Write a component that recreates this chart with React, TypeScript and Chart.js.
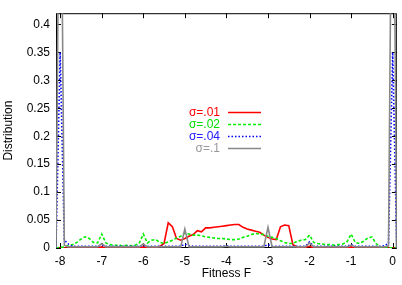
import React, { useEffect, useRef } from "react";
import { Chart, registerables } from "chart.js";

Chart.register(...registerables);

// Fitness F (bin centres)
const F = [
  -8.1, -8.0, -7.9, -7.8, -7.7, -7.6, -7.5, -7.4, -7.3, -7.2,
  -7.1, -7.0, -6.9, -6.8, -6.7, -6.6, -6.5, -6.4, -6.3, -6.2,
  -6.1, -6.0, -5.9, -5.8, -5.7, -5.6, -5.5, -5.4, -5.3, -5.2,
  -5.1, -5.0, -4.9, -4.8, -4.7, -4.6, -4.5, -4.4, -4.3, -4.2,
  -4.1, -4.0, -3.9, -3.8, -3.7, -3.6, -3.5, -3.4, -3.3, -3.2,
  -3.1, -3.0, -2.9, -2.8, -2.7, -2.6, -2.5, -2.4, -2.3, -2.2,
  -2.1, -2.0, -1.9, -1.8, -1.7, -1.6, -1.5, -1.4, -1.3, -1.2,
  -1.1, -1.0, -0.9, -0.8, -0.7, -0.6, -0.5, -0.4, -0.3, -0.2,
  -0.1, 0.0, 0.1,
];

const sigma01 = [
  0, 0, 0, 0, 0, 0, 0, 0, 0, 0,
  0, 0.002, 0, 0, 0, 0, 0, 0, 0, 0,
  0, 0.002, 0, 0, 0.001, 0.003, 0.008, 0.045, 0.038, 0.017,
  0.014, 0.017, 0.021, 0.024, 0.031, 0.029, 0.036, 0.036, 0.037, 0.038,
  0.039, 0.04, 0.041, 0.042, 0.042, 0.037, 0.034, 0.032, 0.03, 0.028,
  0.023, 0.019, 0.016, 0.015, 0.038, 0.041, 0.04, 0.006, 0.002, 0.001,
  0.001, 0.003, 0, 0, 0, 0, 0, 0, 0, 0,
  0, 0.002, 0, 0, 0, 0, 0, 0, 0, 0,
  0, 0, 0,
];

const sigma02 = [
  0, 0.001, 0.002, 0.004, 0.006, 0.01, 0.016, 0.02, 0.017, 0.01,
  0.009, 0.025, 0.009, 0.006, 0.005, 0.005, 0.004, 0.005, 0.004, 0.005,
  0.008, 0.025, 0.009, 0.014, 0.015, 0.01, 0.008, 0.011, 0.014, 0.018,
  0.021, 0.027, 0.025, 0.023, 0.023, 0.022, 0.02, 0.019, 0.018, 0.017,
  0.017, 0.016, 0.015, 0.015, 0.016, 0.019, 0.021, 0.024, 0.026, 0.025,
  0.024, 0.021, 0.019, 0.017, 0.013, 0.01, 0.008, 0.008, 0.012, 0.014,
  0.015, 0.023, 0.01, 0.008, 0.007, 0.006, 0.006, 0.005, 0.006, 0.007,
  0.011, 0.025, 0.01, 0.008, 0.012, 0.018, 0.02, 0.008, 0.002, 0.001,
  0.001, 0, 0,
];

const sigma04 = [
  0, 0.35, 0.014, 0.007, 0.003, 0.003, 0.003, 0.003, 0.003, 0.003,
  0.003, 0.005, 0.003, 0.003, 0.003, 0.003, 0.003, 0.003, 0.003, 0.003,
  0.003, 0.004, 0.003, 0.003, 0.003, 0.003, 0.003, 0.003, 0.003, 0.003,
  0.003, 0.007, 0.004, 0.003, 0.003, 0.003, 0.003, 0.003, 0.003, 0.003,
  0.003, 0.004, 0.003, 0.003, 0.003, 0.003, 0.003, 0.003, 0.003, 0.003,
  0.003, 0.006, 0.003, 0.003, 0.003, 0.003, 0.003, 0.003, 0.003, 0.003,
  0.003, 0.011, 0.003, 0.003, 0.003, 0.003, 0.003, 0.003, 0.003, 0.003,
  0.003, 0.006, 0.003, 0.003, 0.003, 0.003, 0.003, 0.003, 0.003, 0.004,
  0.008, 0.35, 0,
];

const sigma1 = [
  0, 0.9, 0.005, 0.002, 0.002, 0.002, 0.002, 0.002, 0.002, 0.002,
  0.002, 0.008, 0.002, 0.002, 0.002, 0.002, 0.002, 0.002, 0.002, 0.002,
  0.002, 0.007, 0.002, 0.002, 0.002, 0.002, 0.002, 0.002, 0.002, 0.002,
  0.002, 0.034, 0.002, 0.002, 0.002, 0.002, 0.002, 0.002, 0.002, 0.002,
  0.002, 0.003, 0.002, 0.002, 0.002, 0.002, 0.002, 0.002, 0.002, 0.002,
  0.002, 0.037, 0.002, 0.002, 0.002, 0.002, 0.002, 0.002, 0.002, 0.002,
  0.002, 0.009, 0.002, 0.002, 0.002, 0.002, 0.002, 0.002, 0.002, 0.002,
  0.002, 0.005, 0.002, 0.002, 0.002, 0.002, 0.002, 0.002, 0.002, 0.002,
  0.004, 0.9, 0,
];

const seriesLabels = ["σ=.01", "σ=.02", "σ=.04", "σ=.1"];
const xTicks = [-8, -7, -6, -5, -4, -3, -2, -1, 0];
const yTicks = [0, 0.05, 0.1, 0.15, 0.2, 0.25, 0.3, 0.35, 0.4];
const yTickLabels = ["0", "0.05", "0.1", "0.15", "0.2", "0.25", "0.3", "0.35", "0.4"];

const FONT = "'Liberation Sans', Arial, Helvetica, sans-serif";

const toPoints = (ys: number[]) => F.map((x, i) => ({ x, y: ys[i] }));

const framePlugin = {
  id: "gnuFrame",
  beforeDatasetsDraw(chart: any) {
    const { ctx, chartArea: a, scales } = chart;
    const tl = 5;
    ctx.save();
    ctx.strokeStyle = "#000";
    ctx.lineWidth = 1;
    ctx.setLineDash([]);
    ctx.strokeRect(a.left + 0.5, a.top + 0.5, a.right - a.left - 1, a.bottom - a.top - 1);
    ctx.beginPath();
    for (const t of scales.x.ticks) {
      const px = Math.round(scales.x.getPixelForValue(t.value)) + 0.5;
      ctx.moveTo(px, a.bottom);
      ctx.lineTo(px, a.bottom - tl);
      ctx.moveTo(px, a.top);
      ctx.lineTo(px, a.top + tl);
    }
    for (const t of scales.y.ticks) {
      const py = Math.round(scales.y.getPixelForValue(t.value)) + 0.5;
      ctx.moveTo(a.left, py);
      ctx.lineTo(a.left + tl, py);
      ctx.moveTo(a.right, py);
      ctx.lineTo(a.right - tl, py);
    }
    ctx.stroke();
    ctx.restore();
  },
};

const legendPlugin = {
  id: "insideLegend",
  afterDatasetsDraw(chart: any, _args: any, opts: any) {
    const ctx = chart.ctx;
    chart.data.datasets.forEach((ds: any, i: number) => {
      const y = opts.top + i * opts.rowHeight;
      ctx.save();
      ctx.font = `12px ${FONT}`;
      ctx.fillStyle = opts.textColors[i];
      ctx.textAlign = "right";
      ctx.textBaseline = "middle";
      ctx.fillText(ds.label, opts.textRight, y);
      ctx.strokeStyle = ds.borderColor;
      ctx.lineWidth = ds.borderWidth;
      ctx.setLineDash(ds.borderDash || []);
      ctx.beginPath();
      ctx.moveTo(opts.lineStart, y);
      ctx.lineTo(opts.lineEnd, y);
      ctx.stroke();
      ctx.restore();
    });
  },
};

export default function App() {
  const ref = useRef<HTMLCanvasElement>(null);

  useEffect(() => {
    if (!ref.current) return;
    const chart = new Chart(ref.current, {
      type: "line",
      data: {
        datasets: [
          { label: seriesLabels[0], data: toPoints(sigma01), borderColor: "#ff0000", borderWidth: 1.6, borderDash: [], order: 3 },
          { label: seriesLabels[1], data: toPoints(sigma02), borderColor: "#00ee00", borderWidth: 1.6, borderDash: [3, 2], order: 2 },
          { label: seriesLabels[2], data: toPoints(sigma04), borderColor: "#0000ff", borderWidth: 1.6, borderDash: [1.5, 2], order: 1 },
          { label: seriesLabels[3], data: toPoints(sigma1), borderColor: "#888888", borderWidth: 1.6, borderDash: [], order: 0 },
        ],
      },
      options: {
        responsive: false,
        animation: false,
        devicePixelRatio: 1,
        layout: { padding: { left: 0, right: 0, top: 0, bottom: 0 } },
        elements: { point: { radius: 0 }, line: { tension: 0, fill: false } },
        plugins: {
          legend: { display: false },
          tooltip: { enabled: false },
          insideLegend: {
            textRight: 220,
            lineStart: 228,
            lineEnd: 261,
            top: 112.5,
            rowHeight: 12,
            textColors: ["#ff0000", "#00dd00", "#2020ff", "#999999"],
          },
        } as any,
        scales: {
          x: {
            type: "linear",
            min: -8.1,
            max: 0.1,
            afterBuildTicks: (s: any) => {
              s.ticks = xTicks.map((v) => ({ value: v }));
            },
            afterFit: (s: any) => {
              s.height = 37;
            },
            grid: { display: false, drawTicks: false },
            border: { display: false },
            ticks: {
              color: "#000",
              padding: 6,
              maxRotation: 0,
              autoSkip: false,
              font: { family: FONT, size: 12 },
              callback: (v: any) => String(v),
            },
            title: {
              display: true,
              text: "Fitness F",
              color: "#000",
              font: { family: FONT, size: 12 },
              padding: { top: 0, bottom: 4 },
            },
          },
          y: {
            type: "linear",
            min: 0,
            max: 0.42,
            afterBuildTicks: (s: any) => {
              s.ticks = yTicks.map((v) => ({ value: v }));
            },
            afterFit: (s: any) => {
              s.width = 56;
            },
            grid: { display: false, drawTicks: false },
            border: { display: false },
            ticks: {
              color: "#000",
              padding: 6,
              autoSkip: false,
              font: { family: FONT, size: 12 },
              callback: (v: any) => {
                const idx = yTicks.indexOf(v);
                return idx >= 0 ? yTickLabels[idx] : String(v);
              },
            },
            title: {
              display: true,
              text: "Distribution",
              color: "#000",
              font: { family: FONT, size: 12 },
              padding: { top: 1.5, bottom: 0 },
            },
          },
        },
      },
      plugins: [framePlugin, legendPlugin],
    } as any);
    return () => chart.destroy();
  }, []);

  return (
    <div style={{ position: "absolute", left: 0, top: 0, width: 402, height: 285 }}>
      <canvas ref={ref} width={402} height={285} style={{ display: "block" }} />
    </div>
  );
}
